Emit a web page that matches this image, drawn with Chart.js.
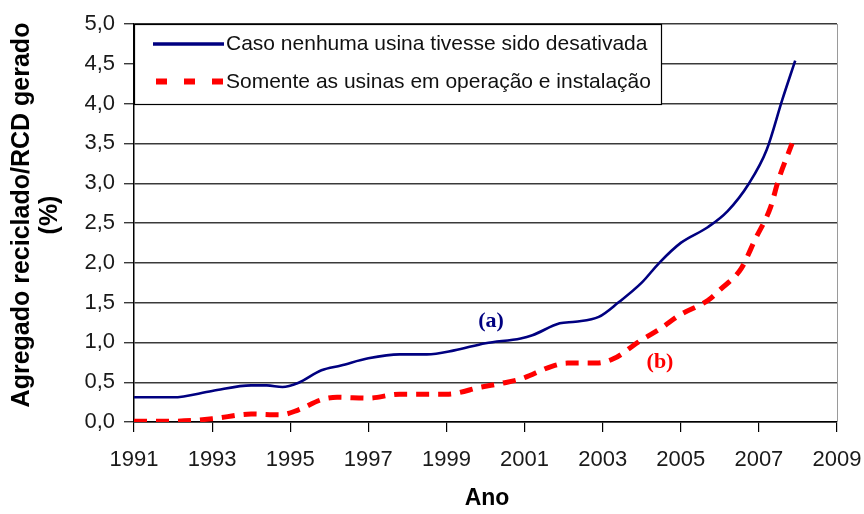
<!DOCTYPE html>
<html>
<head>
<meta charset="utf-8">
<script src="https://cdn.jsdelivr.net/npm/chart.js@4/dist/chart.umd.min.js"></script>
<style>
  html, body { margin: 0; padding: 0; background: #ffffff; }
  #wrap { width: 864px; height: 514px; position: relative; }
</style>
</head>
<body>
<div id="wrap"><canvas id="c" width="864" height="514"></canvas></div>
<script>
// ---- data ----
const labelA = "Caso nenhuma usina tivesse sido desativada";
const labelB = "Somente as usinas em operação e instalação";
const yearsA = [1991, 1992, 1993, 1994, 1994.4, 1994.8, 1995.2, 1995.8, 1996.3, 1997, 1997.8, 1998.5, 1999.2, 2000, 2000.9, 2001.2, 2001.9, 2002.3, 2002.9, 2003.4, 2004, 2004.45, 2005, 2005.7, 2006.2, 2006.75, 2007.2, 2007.6, 2007.93];
const valuesA = [0.31, 0.31, 0.39, 0.46, 0.46, 0.44, 0.49, 0.65, 0.71, 0.80, 0.85, 0.85, 0.90, 0.99, 1.05, 1.09, 1.24, 1.26, 1.32, 1.50, 1.75, 2.00, 2.25, 2.45, 2.65, 3.00, 3.42, 4.05, 4.54];
const yearsB = [1991, 1992, 1993, 1994, 1994.75, 1995.2, 1995.8, 1996.2, 1997, 1997.8, 1999, 1999.9, 2000.45, 2000.9, 2001.7, 2002.1, 2002.85, 2003.3, 2003.9, 2004.5, 2004.96, 2005.7, 2006.0, 2006.55, 2006.9, 2007.3, 2007.5, 2007.85];
const valuesB = [0.01, 0.01, 0.04, 0.10, 0.09, 0.15, 0.28, 0.31, 0.30, 0.35, 0.35, 0.44, 0.49, 0.54, 0.70, 0.74, 0.74, 0.80, 1.00, 1.18, 1.34, 1.53, 1.66, 1.93, 2.29, 2.70, 3.04, 3.50];
const xTitle = "Ano";
const yTitleLines = ["Agregado reciclado/RCD gerado", "(%)"];
const noteA = "(a)";
const noteB = "(b)";

const NAVY = "#000080";
const RED = "#ff0000";
const SANS = "'Liberation Sans', Arial, sans-serif";
const SERIF = "'Liberation Serif', 'Times New Roman', serif";

const toPoints = (xs, ys) => xs.map((x, i) => ({ x: x, y: ys[i] }));

const decorPlugin = {
  id: 'decor',
  afterDraw(chart) {
    const ctx = chart.ctx;
    const area = chart.chartArea;
    ctx.save();
    // right border of the plot area
    ctx.strokeStyle = '#9a9a9a';
    ctx.lineWidth = 1;
    ctx.beginPath();
    ctx.moveTo(area.right + 0.5, area.top);
    ctx.lineTo(area.right + 0.5, area.bottom);
    ctx.stroke();

    // legend box
    const bx = area.left, by = area.top, bw = 527, bh = 80;
    ctx.fillStyle = '#ffffff';
    ctx.fillRect(bx, by, bw, bh);
    ctx.strokeStyle = '#000000';
    ctx.lineWidth = 1.2;
    ctx.strokeRect(bx + 0.5, by + 0.5, bw, bh);
    // sample A
    ctx.strokeStyle = NAVY;
    ctx.lineWidth = 3.5;
    ctx.beginPath();
    ctx.moveTo(bx + 19, by + 20);
    ctx.lineTo(bx + 90, by + 20);
    ctx.stroke();
    // sample B
    ctx.strokeStyle = RED;
    ctx.lineWidth = 6;
    ctx.setLineDash([11, 17]);
    ctx.beginPath();
    ctx.moveTo(bx + 22, by + 57.5);
    ctx.lineTo(bx + 90, by + 57.5);
    ctx.stroke();
    ctx.setLineDash([]);
    ctx.fillStyle = '#111111';
    ctx.font = "21px " + SANS;
    ctx.textBaseline = 'middle';
    ctx.textAlign = 'left';
    ctx.fillText(labelA, bx + 92, by + 20);
    ctx.fillText(labelB, bx + 92, by + 58);

    // y title
    ctx.font = "bold 25px " + SANS;
    ctx.fillStyle = '#000000';
    ctx.textAlign = 'center';
    ctx.textBaseline = 'middle';
    const cy = 215;
    ctx.save();
    ctx.translate(22, cy);
    ctx.rotate(-Math.PI / 2);
    ctx.fillText(yTitleLines[0], 0, 0);
    ctx.restore();
    ctx.save();
    ctx.translate(50, cy);
    ctx.rotate(-Math.PI / 2);
    ctx.fillText(yTitleLines[1], 0, 0);
    ctx.restore();

    // x title
    ctx.font = "bold 23px " + SANS;
    ctx.fillText(xTitle, 487, 499);

    // annotations
    ctx.font = "bold 22px " + SERIF;
    ctx.fillStyle = NAVY;
    ctx.fillText(noteA, 491, 321);
    ctx.fillStyle = RED;
    ctx.fillText(noteB, 660, 362);
    ctx.restore();
  }
};

new Chart(document.getElementById('c'), {
  type: 'line',
  data: {
    datasets: [
      {
        label: labelA,
        data: toPoints(yearsA, valuesA),
        borderColor: NAVY,
        borderWidth: 2.6,
        pointRadius: 0,
        cubicInterpolationMode: 'monotone',
        fill: false
      },
      {
        label: labelB,
        data: toPoints(yearsB, valuesB),
        borderColor: RED,
        borderWidth: 5,
        borderDash: [13, 9],
        pointRadius: 0,
        cubicInterpolationMode: 'monotone',
        fill: false
      }
    ]
  },
  options: {
    responsive: false,
    animation: false,
    events: [],
    layout: { padding: { top: 24, right: 27, left: 0, bottom: 0 } },
    plugins: { legend: { display: false }, title: { display: false }, tooltip: { enabled: false } },
    scales: {
      x: {
        type: 'linear',
        min: 1991,
        max: 2009,
        afterFit(s) { s.height = 92; s.paddingLeft = 0; s.paddingRight = 0; },
        ticks: {
          stepSize: 2,
          autoSkip: false,
          maxRotation: 0,
          color: '#1a1a1a',
          font: { family: SANS, size: 22 },
          padding: 15,
          callback: (v) => String(v)
        },
        grid: { drawOnChartArea: false, drawTicks: true, tickLength: 10, color: '#000000', lineWidth: 1.2 },
        border: { display: true, color: '#000000', width: 1.5 }
      },
      y: {
        min: 0,
        max: 5,
        afterFit(s) { s.width = 134; s.paddingTop = 0; s.paddingBottom = 0; },
        ticks: {
          stepSize: 0.5,
          color: '#1a1a1a',
          font: { family: SANS, size: 22 },
          padding: 9,
          callback: (v) => v.toFixed(1).replace('.', ',')
        },
        grid: { color: '#3a3a3a', lineWidth: 1.4, tickLength: 10, drawTicks: true },
        border: { display: true, color: '#000000', width: 1.5 }
      }
    }
  },
  plugins: [decorPlugin]
});
</script>
</body>
</html>
